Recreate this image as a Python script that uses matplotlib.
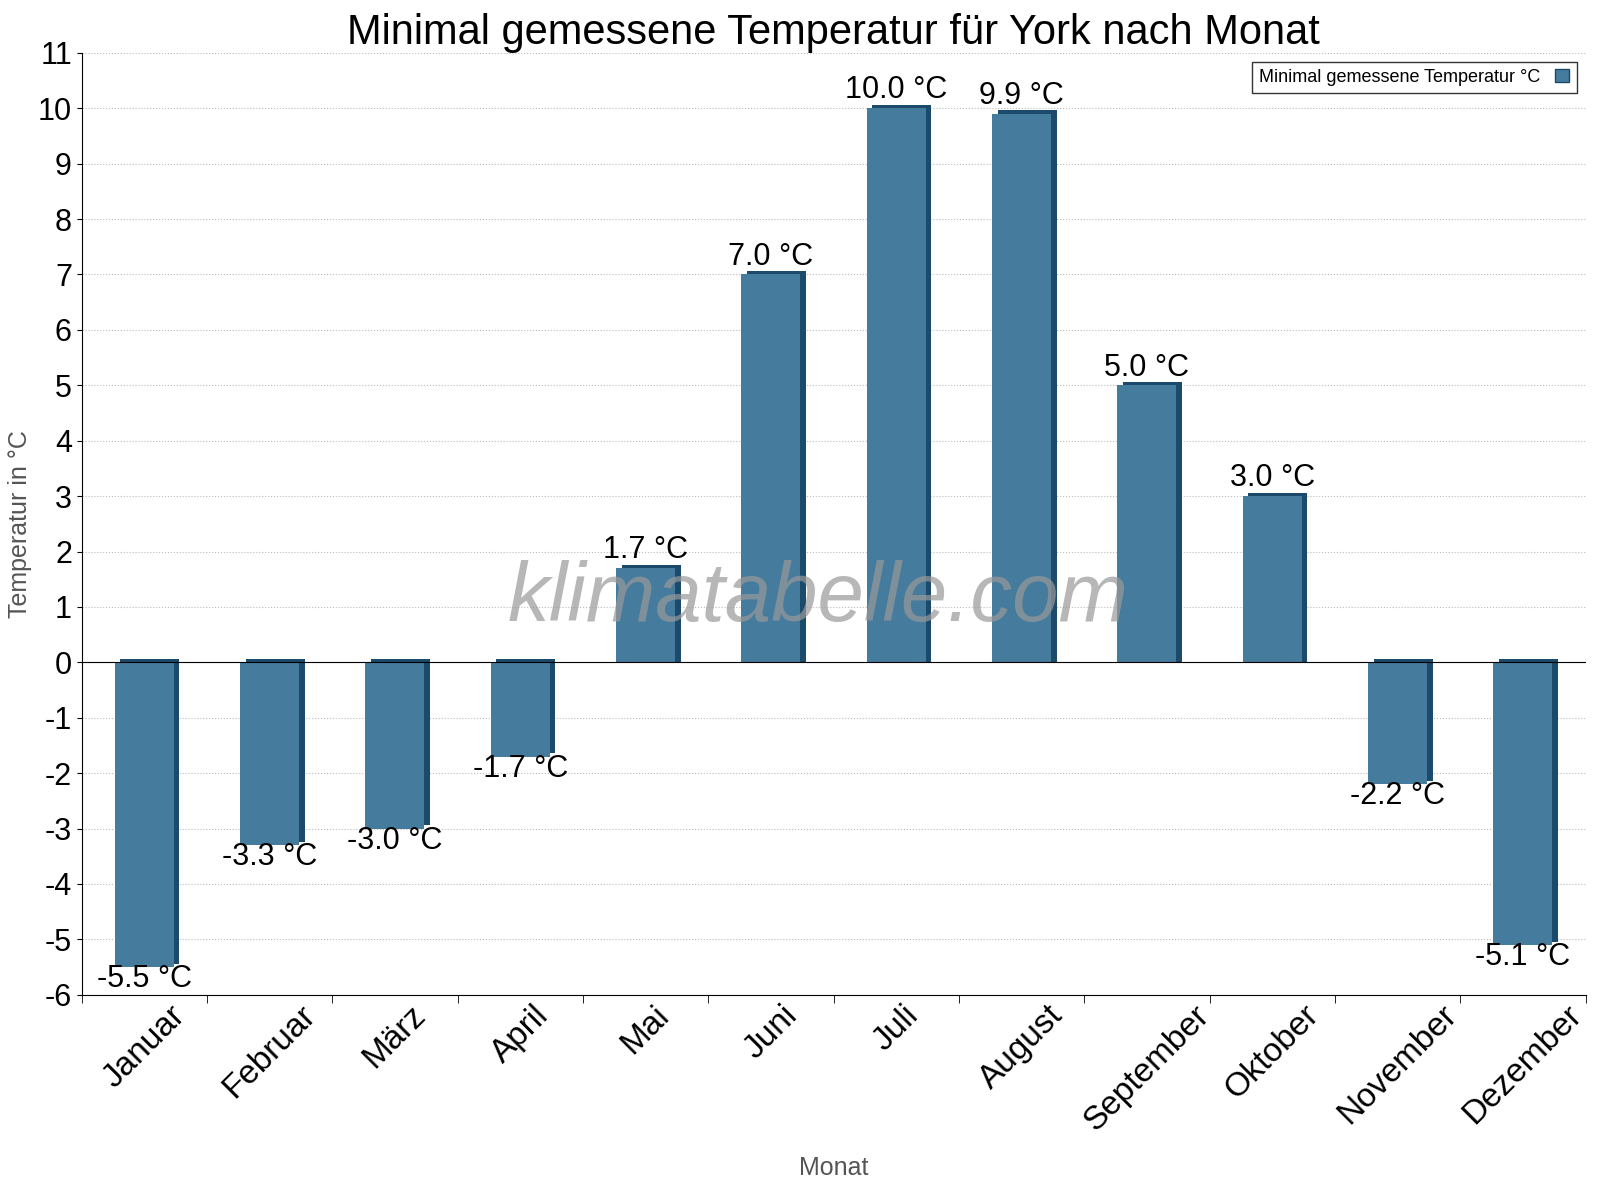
import matplotlib
matplotlib.use("Agg")
import matplotlib.pyplot as plt
import numpy as np
from matplotlib.patches import Patch

plt.rcParams["font.family"] = "Liberation Sans"
plt.rcParams["axes.unicode_minus"] = False

months = ["Januar","Februar","März","April","Mai","Juni","Juli","August","September","Oktober","November","Dezember"]
values = [-5.5,-3.3,-3.0,-1.7,1.7,7.0,10.0,9.9,5.0,3.0,-2.2,-5.1]

fig = plt.figure(figsize=(16,12), dpi=100)
ax = fig.add_axes([0.051,0.171,0.94,0.785])
x = np.arange(len(months))
w = 0.47
dark = "#1b4a6b"
main = "#457b9d"
ax.bar(x+0.045, [v+0.06 for v in values], width=w, color=dark, zorder=2)
ax.bar(x+0.045, [0.06 if v < 0 else 0 for v in values], width=w, color=dark, zorder=2)
ax.bar(x, values, width=w, color=main, zorder=3)
for xi, v in zip(x, values):
    if v >= 0:
        ax.text(xi, v+0.05, f"{v:.1f} °C", ha="center", va="bottom", fontsize=22, zorder=5)
    else:
        ax.text(xi, v+0.05, f"{v:.1f} °C", ha="center", va="top", fontsize=22, zorder=5)
ax.axhline(0, color="black", lw=0.8, zorder=4)
ax.set_xlim(-0.5, 11.5)
ax.set_ylim(-6, 11)
ax.set_yticks(range(-6, 12))
ax.tick_params(axis="y", labelsize=22)
ax.set_xticks(x)
ax.set_xticklabels(months, rotation=45, fontsize=24, ha="center")
ax.set_xticks(np.arange(-0.5, 12, 1), minor=True)
ax.tick_params(axis="x", which="major", length=0)
ax.tick_params(axis="x", which="minor", length=6)
ax.grid(axis="y", linestyle=":", color="#bbbbbb", zorder=0)
for s in ["top","right"]:
    ax.spines[s].set_visible(False)
ax.set_ylabel("Temperatur in °C", fontsize=18, color="#555555")
ax.set_xlabel("Monat", fontsize=18, color="#555555", labelpad=14)
ax.set_title("Minimal gemessene Temperatur für York nach Monat", fontsize=30, pad=6)
ax.text(0.49, 0.42, "klimatabelle.com", transform=ax.transAxes, ha="center", va="center",
        fontsize=60, color="#999999", alpha=0.7, style="italic", zorder=6)
ax.legend(handles=[Patch(facecolor=main, edgecolor=dark)], labels=["Minimal gemessene Temperatur °C"],
          loc="upper right", fontsize=13, frameon=True, fancybox=False, edgecolor="black",
          markerfirst=False, handlelength=0.8)
fig.savefig("out.png", dpi=100)
